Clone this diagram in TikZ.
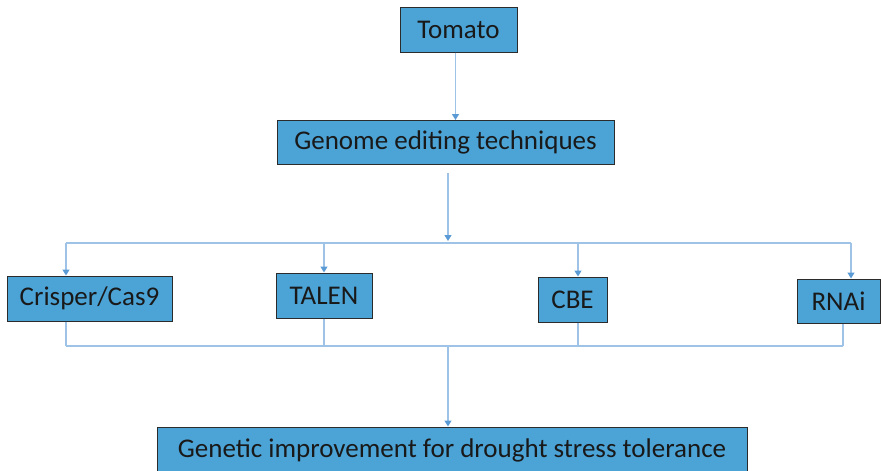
\documentclass[tikz,border=0pt]{standalone}
\usepackage{fontspec}
\setmainfont{Carlito}
\usetikzlibrary{arrows.meta,positioning,calc}
\definecolor{BoxBlue}{HTML}{4BA3D6}
\definecolor{BoxEdge}{HTML}{2B2B2B}
\definecolor{LinkBlue}{HTML}{9FC3E6}
\definecolor{TipBlue}{HTML}{5B9BD5}
\tikzset{
  box/.style={draw=BoxEdge, fill=BoxBlue, line width=1pt, inner sep=0pt,
              font=\fontsize{27}{30}\selectfont, text=black!90},
  link/.style={draw=LinkBlue, line width=1.3pt},
  feed/.style={link, -{Triangle[width=7pt,length=6pt,color=TipBlue]}},
}
\begin{document}
\begin{tikzpicture}[x=1pt,y=-1pt]
    \useasboundingbox (0,0) rectangle (881,471);
    \node[box,minimum width=117pt,minimum height=45pt] (tomato) at (458.5,29.5) {Tomato};
    \node[box,minimum width=337pt,minimum height=44pt] (genome) at (445.5,142.5) {Genome editing techniques};
    \node[box,minimum width=165pt,minimum height=45pt] (crisper) at (89.5,298.5) {Crisper/Cas9};
    \node[box,minimum width=96pt,minimum height=45pt] (talen) at (324,295.5) {TALEN};
    \node[box,minimum width=69pt,minimum height=45pt] (cbe) at (572.5,299.5) {CBE};
    \node[box,minimum width=83pt,minimum height=44pt] (rnai) at (838.5,301) {RNAi};
    \node[box,minimum width=590pt,minimum height=46pt] (gain) at (452,450) {Genetic improvement for drought stress tolerance};
    % branch and merge points
    \coordinate (split) at (448,243);
    \coordinate (merge) at (448,346);
    \draw[feed] ([xshift=-3pt]tomato.south) -- ([xshift=-3pt]tomato.south |- genome.north);
    \draw[feed] ($(genome.south -| split)+(0,8)$) -- ($(split)+(0,-2)$);
    \draw[link] (66,243) coordinate (west top) -- (851,243) coordinate (east top);
    \draw[link] (66,346) coordinate (west low) -- (843,346) coordinate (east low);
    \foreach \n/\xt/\xb in {crisper/66/66, talen/324/324, cbe/578/578, rnai/851/843}{
      \coordinate (\n top) at (\xt,243);
      \coordinate (\n low) at (\xb,346);
      \draw[feed] (\n top) -- (\n top |- \n.north);
      \draw[link] (\n low |- \n.south) -- (\n low);
    }
    \draw[feed] (merge) -- (merge |- gain.north);
  \end{tikzpicture}
\end{document}
